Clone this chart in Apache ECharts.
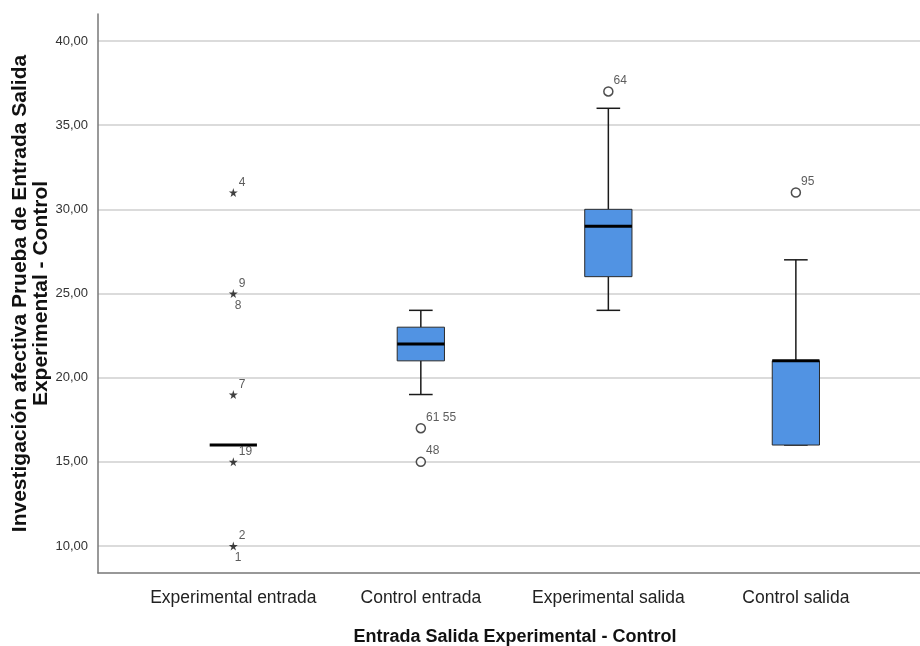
<!DOCTYPE html>
<html>
<head>
<meta charset="utf-8">
<script src="https://cdn.jsdelivr.net/npm/echarts@6/dist/echarts.min.js"></script>
<style>html,body{margin:0;padding:0;background:#fff;}#c{width:920px;height:646px;}</style>
</head>
<body>
<div id="c"></div>
<script>
// ---- data ----
var categories = ['Experimental entrada', 'Control entrada', 'Experimental salida', 'Control salida'];
var whiskerLow  = [16, 19, 24, 16];
var q1          = [16, 21, 26, 16];
var median      = [16, 22, 29, 21];
var q3          = [16, 23, 30, 21];
var whiskerHigh = [16, 24, 36, 27];
var yTicks = [10, 15, 20, 25, 30, 35, 40];

// outliers (circles): group index, value, case label
var outlierGroup = [1, 1, 2, 3];
var outlierValue = [17, 15, 37, 31];
var outlierCase  = ['61 55', '48', '64', '95'];

// extremes (stars): group index, value, case label above / below
var extremeGroup = [0, 0, 0, 0, 0];
var extremeValue = [31, 25, 19, 15, 10];
var extremeCaseAbove = ['4', '9', '7', '19', '2'];
var extremeCaseBelow = ['', '8', '', '', '1'];

// ---- build ----
var boxData = categories.map(function (c, i) {
  return [i, whiskerLow[i], q1[i], median[i], q3[i], whiskerHigh[i]];
});
var outData = outlierGroup.map(function (g, i) { return { value: [g, outlierValue[i]], name: outlierCase[i] }; });
var extAbove = extremeGroup.map(function (g, i) { return { value: [g, extremeValue[i]], name: extremeCaseAbove[i] }; });
var extBelow = extremeGroup.map(function (g, i) { return { value: [g, extremeValue[i]], name: extremeCaseBelow[i] }; });

var FONT = '"Liberation Sans", Arial, sans-serif';
var STAR = 'path://M50,0 L61,35 L98,35 L68,57 L79,91 L50,70 L21,91 L32,57 L2,35 L39,35 Z';

function renderBox(params, api) {
  var x = api.value(0);
  var band = api.size([1, 0])[0];
  var hw = band * 0.126;
  var cw = hw * 0.5;
  var pLo = api.coord([x, api.value(1)]);
  var pQ1 = api.coord([x, api.value(2)]);
  var pMed = api.coord([x, api.value(3)]);
  var pQ3 = api.coord([x, api.value(4)]);
  var pHi = api.coord([x, api.value(5)]);
  var cx = pMed[0];
  var lineStyle = { stroke: '#1a1a1a', lineWidth: 1.5 };
  var children = [
    { type: 'line', shape: { x1: cx, y1: pHi[1], x2: cx, y2: pQ3[1] }, style: lineStyle },
    { type: 'line', shape: { x1: cx, y1: pQ1[1], x2: cx, y2: pLo[1] }, style: lineStyle },
    { type: 'line', shape: { x1: cx - cw, y1: pHi[1], x2: cx + cw, y2: pHi[1] }, style: lineStyle },
    { type: 'line', shape: { x1: cx - cw, y1: pLo[1], x2: cx + cw, y2: pLo[1] }, style: lineStyle }
  ];
  if (pQ1[1] - pQ3[1] > 0.5) {
    children.push({ type: 'rect', shape: { x: cx - hw, y: pQ3[1], width: hw * 2, height: pQ1[1] - pQ3[1] },
      style: { fill: '#5193e3', stroke: '#2b2b2b', lineWidth: 1 } });
  }
  children.push({ type: 'line', shape: { x1: cx - hw, y1: pMed[1], x2: cx + hw, y2: pMed[1] },
    style: { stroke: '#000', lineWidth: 3 } });
  return { type: 'group', children: children };
}

var chart = echarts.init(document.getElementById('c'), null, { renderer: 'canvas' });
chart.setOption({
  backgroundColor: '#fff',
  animation: false,
  grid: { left: 98, right: 0, top: 14, bottom: 73, containLabel: false, outerBoundsMode: 'none' },
  xAxis: {
    type: 'value', min: -0.7216, max: 3.662,
    name: 'Entrada Salida Experimental - Control',
    nameLocation: 'middle', nameGap: 55, nameMoveOverlap: false,
    nameTextStyle: { fontFamily: FONT, fontSize: 18, fontWeight: 'bold', color: '#111', padding: [0, 0, 0, 12] },
    axisLine: { show: true, onZero: false, lineStyle: { color: '#777', width: 1.5 } },
    axisTick: { show: false, customValues: [0, 1, 2, 3] },
    axisLabel: { customValues: [0, 1, 2, 3], margin: 16, fontFamily: FONT, fontSize: 17.5, color: '#222',
      formatter: function (v) { return categories[Math.round(v)]; } },
    splitLine: { show: false }
  },
  yAxis: {
    type: 'value', min: 8.4, max: 41.6,
    name: 'Investigación afectiva Prueba de Entrada Salida\nExperimental - Control',
    nameLocation: 'middle', nameGap: 46, nameRotate: 90, nameMoveOverlap: false,
    nameTextStyle: { fontFamily: FONT, fontSize: 21, fontWeight: 'bold', color: '#111', lineHeight: 21, align: 'center' },
    axisLine: { show: true, onZero: false, lineStyle: { color: '#777', width: 1.5 } },
    axisTick: { show: false, customValues: yTicks },
    axisLabel: { customValues: yTicks, margin: 10, fontFamily: FONT, fontSize: 13, color: '#333',
      formatter: function (v) { return v.toFixed(2).replace('.', ','); } },
    splitLine: { show: true, lineStyle: { color: '#cfcfcf', width: 1.5 } }
  },
  series: [
    { type: 'custom', renderItem: renderBox, data: boxData, z: 3 },
    { type: 'scatter', data: outData, symbol: 'circle', symbolSize: 9, z: 4,
      itemStyle: { color: '#fff', borderColor: '#222', borderWidth: 1.5 },
      label: { show: true, position: 'right', offset: [-5, -11], formatter: '{b}', fontFamily: FONT, fontSize: 12, color: '#333' } },
    { type: 'scatter', data: extAbove, symbol: STAR, symbolSize: 9, z: 4,
      itemStyle: { color: '#111' },
      label: { show: true, position: 'right', offset: [-4, -10], formatter: '{b}', fontFamily: FONT, fontSize: 12, color: '#333' } },
    { type: 'scatter', data: extBelow, symbol: 'circle', symbolSize: 1, z: 4,
      itemStyle: { color: 'rgba(0,0,0,0)' },
      label: { show: true, position: 'right', offset: [-4, 12], formatter: '{b}', fontFamily: FONT, fontSize: 12, color: '#333' } }
  ]
});
</script>
</body>
</html>
